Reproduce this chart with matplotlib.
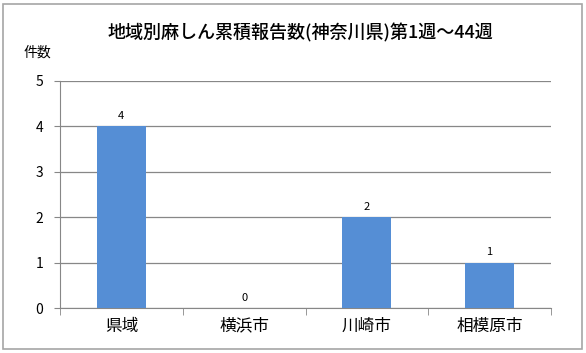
import matplotlib
matplotlib.use("Agg")
import matplotlib.pyplot as plt
from matplotlib.patches import Rectangle

plt.rcParams['font.family'] = ['Noto Sans CJK JP', 'DejaVu Sans']

categories = ["県域", "横浜市", "川崎市", "相模原市"]
values = [4, 0, 2, 1]
yticks = [0, 1, 2, 3, 4, 5]
title = "地域別麻しん累積報告数(神奈川県)第1週～44週"
ylabel = "件数"

fig = plt.figure(figsize=(5.86, 3.53), dpi=100)
fig.patches.append(Rectangle((3/586, 4/353), 579/586, 345/353, transform=fig.transFigure,
                             fill=False, edgecolor="#A6A6A6", linewidth=1.2))
ax = fig.add_axes([60/586, 1-308/353, 491/586, 227/353])

x = list(range(len(categories)))
bars = ax.bar(x, values, width=0.4, color="#558ED5", zorder=3)
for xi, v in zip(x, values):
    ax.text(xi, v + 0.12, str(v), ha="center", va="bottom", fontsize=8, color="#000000")

ax.set_xlim(-0.5, len(categories) - 0.5)
ax.set_ylim(0, 5)
ax.set_yticks(yticks)
ax.set_yticklabels([str(t) for t in yticks], fontsize=10)
ax.set_xticks(x)
ax.set_xticklabels(categories, fontsize=12)
ax.tick_params(axis="x", length=0, pad=7)
ax.tick_params(axis="y", length=4, color="#878787", pad=8)
# boundary ticks on x-axis
ax.set_xticks([i - 0.5 for i in range(len(categories) + 1)], minor=True)
ax.tick_params(axis="x", which="minor", length=5, color="#878787", direction="out")

ax.grid(axis="y", color="#878787", linewidth=0.9, zorder=0)
for s in ["top", "right"]:
    ax.spines[s].set_visible(False)
ax.spines["left"].set_color("#878787")
ax.spines["bottom"].set_color("#878787")

fig.text(300/586, 1-33/353, title, ha="center", va="center", fontsize=13, fontweight="medium")
fig.text(37/586, 1-53/353, ylabel, ha="center", va="center", fontsize=10)

fig.savefig("out.png", dpi=100)
